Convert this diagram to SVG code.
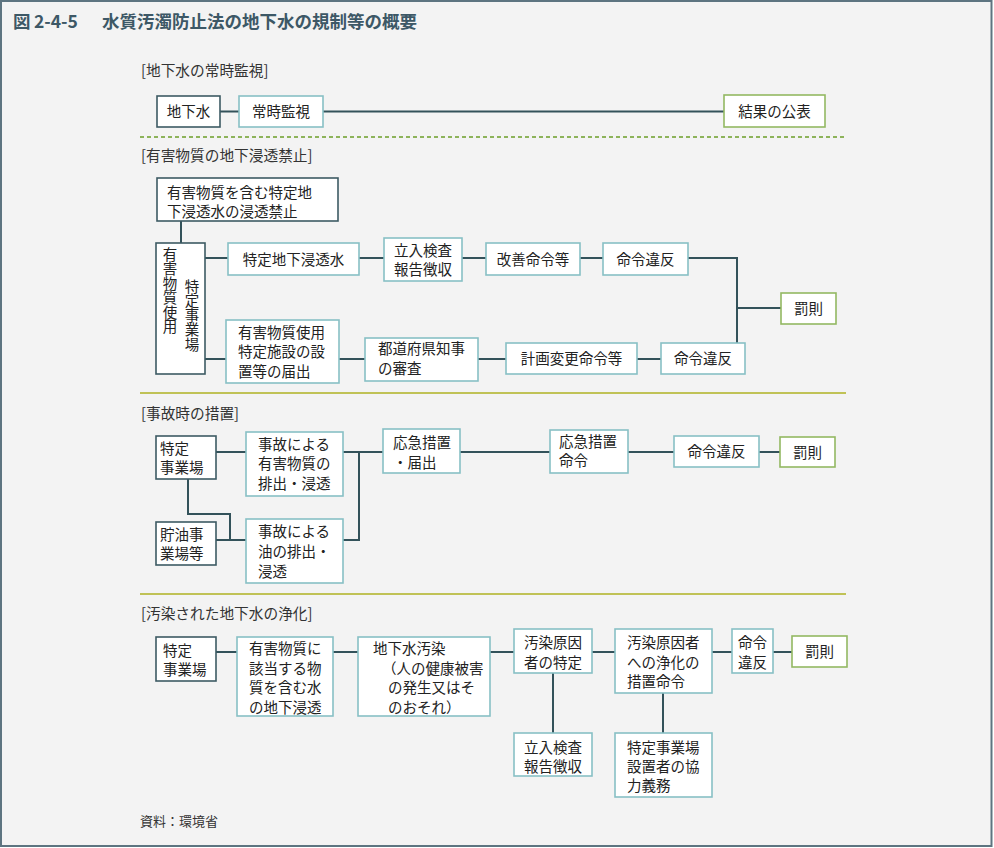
<svg xmlns="http://www.w3.org/2000/svg" width="994" height="848" viewBox="0 0 994 848">
<style>
.bg{fill:#f3f3f3;stroke:#5d7480;stroke-width:2}
.dk{fill:#fff;stroke:#3d5a63;stroke-width:1.6}
.tl{fill:#fff;stroke:#88c0c5;stroke-width:1.6}
.gr{fill:#fff;stroke:#93b862;stroke-width:1.6}
text{font-family:"Noto Sans CJK JP","Noto Sans CJK SC",sans-serif;fill:#222}
.t{font-size:14.5px}
.c{text-anchor:middle}
.v{writing-mode:vertical-rl;font-size:14.5px}
.lb{font-size:14.7px;fill:#333}
.ttl{font-size:17.5px;fill:#3d5866;font-weight:bold}
.con path{stroke:#33525a;stroke-width:2;fill:none}
.sep{stroke:#c0c256;stroke-width:2}
</style>
<rect class="bg" x="1" y="1" width="990.5" height="845"/>
<text class="ttl" x="13" y="28">図</text>
<text class="ttl" x="34" y="28">2-4-5</text>
<text class="ttl" x="102" y="28">水質汚濁防止法の地下水の規制等の概要</text>

<text class="lb" x="141" y="76">[地下水の常時監視]</text>
<line x1="140" y1="137" x2="846" y2="137" stroke="#8db35a" stroke-width="2" stroke-dasharray="4 3"/>
<text class="lb" x="141" y="161">[有害物質の地下浸透禁止]</text>
<line class="sep" x1="140" y1="393" x2="846" y2="393"/>
<text class="lb" x="141" y="419">[事故時の措置]</text>
<line class="sep" x1="140" y1="594" x2="846" y2="594"/>
<text class="lb" x="141" y="619">[汚染された地下水の浄化]</text>

<g class="con">
<path d="M220 111.5H239M323 111.5H724"/>
<path d="M181 221V243M205 258H228M359 258H384M462 258H486M580 258H603M688 258H737V343M737 308H781"/>
<path d="M205 359H226M339 359H365M478 359H506M637 359H661"/>
<path d="M216 452H246M343 452H383M359 452V540H343M460 452H550M628 452H674M759 452H780"/>
<path d="M188 479V514H230V540M216 540H246"/>
<path d="M216 652H237M333 652H358M490 652H514M592 652H615M712 652H732M773 652H792M553 673V733M663 693V733"/>
</g>

<g id="n-chikasui"><rect class="dk" x="157" y="96" width="63" height="31"/><text class="t c" x="188.5" y="117">地下水</text></g>
<g id="n-joji"><rect class="tl" x="239" y="96" width="84" height="31"/><text class="t c" x="281" y="117">常時監視</text></g>
<g id="n-kohyo"><rect class="gr" x="724" y="95" width="101" height="32"/><text class="t c" x="774.5" y="116.5">結果の公表</text></g>

<g id="n-kinshi"><rect class="dk" x="157" y="178" width="181" height="43"/><text class="t" x="167" y="197.5">有害物質を含む特定地</text><text class="t" x="167" y="216.5">下浸透水の浸透禁止</text></g>
<g id="n-jigyojo1"><rect class="dk" x="156" y="243" width="49" height="131"/>
<text class="v" x="170" y="247">有害物質使用</text>
<text class="v" x="192" y="279">特定事業場</text></g>
<g id="n-shintou"><rect class="tl" x="228" y="243" width="131" height="32"/><text class="t c" x="293.5" y="264.5">特定地下浸透水</text></g>
<g id="n-tachiiri1"><rect class="tl" x="384" y="238" width="78" height="43"/><text class="t c" x="423" y="256">立入検査</text><text class="t c" x="423" y="275">報告徴収</text></g>
<g id="n-kaizen"><rect class="tl" x="486" y="243" width="94" height="32"/><text class="t c" x="533" y="264.5">改善命令等</text></g>
<g id="n-ihan1"><rect class="tl" x="603" y="243" width="85" height="32"/><text class="t c" x="645.5" y="264.5">命令違反</text></g>
<g id="n-bassoku1"><rect class="gr" x="781" y="293" width="55" height="31"/><text class="t c" x="808.5" y="314">罰則</text></g>
<g id="n-todokede"><rect class="tl" x="226" y="320" width="113" height="63"/><text class="t" x="238" y="337.5">有害物質使用</text><text class="t" x="238" y="357">特定施設の設</text><text class="t" x="238" y="376.5">置等の届出</text></g>
<g id="n-shinsa"><rect class="tl" x="365" y="338" width="113" height="43"/><text class="t" x="378" y="354">都道府県知事</text><text class="t" x="378" y="373.5">の審査</text></g>
<g id="n-keikaku"><rect class="tl" x="506" y="343" width="131" height="31"/><text class="t c" x="571.5" y="364">計画変更命令等</text></g>
<g id="n-ihan2"><rect class="tl" x="661" y="343" width="84" height="31"/><text class="t c" x="703" y="364">命令違反</text></g>

<g id="n-jigyojo2"><rect class="dk" x="156" y="436" width="60" height="43"/><text class="t" x="160" y="453.5">特定</text><text class="t" x="160" y="472.5">事業場</text></g>
<g id="n-jiko1"><rect class="tl" x="246" y="432" width="97" height="64"/><text class="t" x="258" y="449.5">事故による</text><text class="t" x="258" y="469">有害物質の</text><text class="t" x="258" y="488.5">排出・浸透</text></g>
<g id="n-ochu"><rect class="tl" x="383" y="429" width="77" height="44"/><text class="t" x="393" y="448">応急措置</text><text class="t" x="393" y="467.5">・届出</text></g>
<g id="n-ochumeirei"><rect class="tl" x="550" y="430" width="78" height="43"/><text class="t" x="559" y="447">応急措置</text><text class="t" x="559" y="466">命令</text></g>
<g id="n-ihan3"><rect class="tl" x="674" y="436" width="85" height="31"/><text class="t c" x="716.5" y="457">命令違反</text></g>
<g id="n-bassoku2"><rect class="gr" x="780" y="437" width="55" height="30"/><text class="t c" x="807.5" y="457.5">罰則</text></g>
<g id="n-choyu"><rect class="dk" x="156" y="522" width="60" height="43"/><text class="t" x="160" y="539.5">貯油事</text><text class="t" x="160" y="559">業場等</text></g>
<g id="n-jiko2"><rect class="tl" x="246" y="519" width="97" height="64"/><text class="t" x="258" y="536.5">事故による</text><text class="t" x="258" y="556.5">油の排出・</text><text class="t" x="258" y="576.5">浸透</text></g>

<g id="n-jigyojo3"><rect class="dk" x="156" y="637" width="60" height="44"/><text class="t" x="163" y="655.5">特定</text><text class="t" x="163" y="674.5">事業場</text></g>
<g id="n-gaito"><rect class="tl" x="237" y="637" width="96" height="79"/><text class="t" x="249" y="653.5">有害物質に</text><text class="t" x="249" y="673.5">該当する物</text><text class="t" x="249" y="693">質を含む水</text><text class="t" x="249" y="712.5">の地下浸透</text></g>
<g id="n-osen"><rect class="tl" x="358" y="637" width="132" height="79"/><text class="t" x="373" y="653.5">地下水汚染</text><text class="t" x="382" y="673.5">（人の健康被害</text><text class="t" x="388" y="693">の発生又はそ</text><text class="t" x="388" y="712.5">のおそれ）</text></g>
<g id="n-tokutei"><rect class="tl" x="514" y="629" width="78" height="44"/><text class="t" x="524" y="647.5">汚染原因</text><text class="t" x="524" y="668">者の特定</text></g>
<g id="n-joka"><rect class="tl" x="615" y="629" width="97" height="64"/><text class="t" x="627" y="647.5">汚染原因者</text><text class="t" x="627" y="667.5">への浄化の</text><text class="t" x="627" y="687">措置命令</text></g>
<g id="n-ihan4"><rect class="tl" x="732" y="629" width="41" height="44"/><text class="t" x="738" y="647.5">命令</text><text class="t" x="738" y="668">違反</text></g>
<g id="n-bassoku3"><rect class="gr" x="792" y="636" width="55" height="31"/><text class="t c" x="819.5" y="657">罰則</text></g>
<g id="n-tachiiri2"><rect class="tl" x="514" y="733" width="78" height="43"/><text class="t" x="524" y="752.5">立入検査</text><text class="t" x="524" y="771.5">報告徴収</text></g>
<g id="n-kyoryoku"><rect class="tl" x="615" y="733" width="97" height="64"/><text class="t" x="627" y="752.5">特定事業場</text><text class="t" x="627" y="771.5">設置者の協</text><text class="t" x="627" y="790.5">力義務</text></g>

<text x="140" y="826" style="font-size:13px;fill:#333">資料：環境省</text>
</svg>
